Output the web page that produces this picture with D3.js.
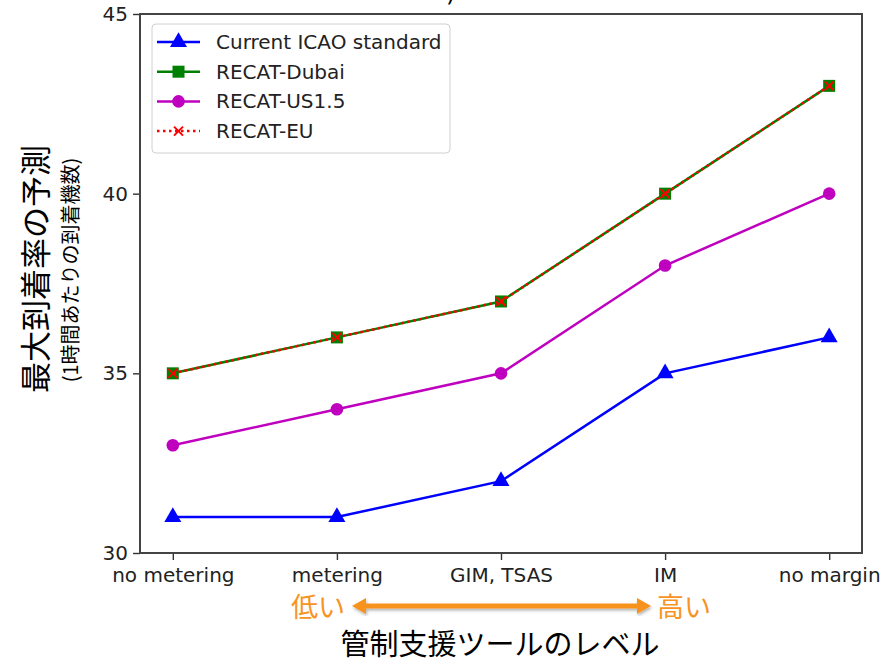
<!DOCTYPE html>
<html>
<head>
<meta charset="utf-8">
<script src="https://cdn.jsdelivr.net/npm/d3@7"></script>
<style>
  body { margin: 0; background: #fff; }
  svg text { font-family: "DejaVu Sans", sans-serif; }
  .jp { font-family: "Noto Sans CJK JP", sans-serif; }
</style>
</head>
<body>
<div id="chart"></div>
<script>
// data
let categories = ["no metering", "metering", "GIM, TSAS", "IM", "no margin"];
let icao = [31, 31, 32, 35, 36];
let dubai = [35, 36, 37, 40, 43];
let us15 = [33, 34, 35, 38, 40];
let eu = [35, 36, 37, 40, 43];
let yTicks = [30, 35, 40, 45];
let seriesNames = ["Current ICAO standard", "RECAT-Dubai", "RECAT-US1.5", "RECAT-EU"];

let margin = {top: 14, right: 22, bottom: 109, left: 140};
let W = 884, H = 662;
let width = W - margin.left - margin.right;
let height = H - margin.top - margin.bottom;

let svg = d3.select("#chart").append("svg")
  .attr("width", W)
  .attr("height", H);

let g = svg.append("g")
  .attr("transform", "translate(" + margin.left + "," + margin.top + ")");

// scales
let x = d3.scaleLinear()
  .domain([-0.2, categories.length - 0.8])
  .range([0, width]);

let y = d3.scaleLinear()
  .domain([30, 45])
  .range([height, 0]);

let series = [
  {name: seriesNames[0], values: icao, color: "#0000ff", marker: "triangle", dash: null},
  {name: seriesNames[1], values: dubai, color: "#008000", marker: "square", dash: null},
  {name: seriesNames[2], values: us15, color: "#bf00bf", marker: "circle", dash: null},
  {name: seriesNames[3], values: eu, color: "#ff0000", marker: "x", dash: "2.5,3.5"}
];

let line = d3.line()
  .x((d, i) => x(i))
  .y(d => y(d));

function drawMarker(sel, type, color) {
  if (type === "triangle") {
    sel.append("path").attr("d", d3.symbol(d3.symbolTriangle, 125)()).attr("fill", color);
  } else if (type === "square") {
    sel.append("rect").attr("x", -6).attr("y", -6).attr("width", 12).attr("height", 12).attr("fill", color);
  } else if (type === "circle") {
    sel.append("circle").attr("r", 6.3).attr("fill", color);
  } else {
    sel.append("path").attr("d", "M-4.5,-4.5L4.5,4.5M-4.5,4.5L4.5,-4.5")
      .attr("stroke", color).attr("stroke-width", 2).attr("fill", "none");
  }
}

// lines and markers
series.forEach(s => {
  g.append("path")
    .datum(s.values)
    .attr("d", line)
    .attr("fill", "none")
    .attr("stroke", s.color)
    .attr("stroke-width", 2.5)
    .attr("stroke-dasharray", s.dash);

  g.selectAll(null)
    .data(s.values)
    .enter().append("g")
    .attr("transform", (d, i) => "translate(" + x(i) + "," + y(d) + ")")
    .each(function() { drawMarker(d3.select(this), s.marker, s.color); });
});

// axes
let xAxis = d3.axisBottom(x)
  .tickValues(d3.range(categories.length))
  .tickFormat(i => categories[i])
  .tickSizeOuter(0)
  .tickSize(7)
  .tickPadding(8);

let yAxis = d3.axisLeft(y)
  .tickValues(yTicks)
  .tickSizeOuter(0)
  .tickSize(7)
  .tickPadding(5);

g.append("g")
  .attr("class", "x-axis axis")
  .attr("transform", "translate(0," + height + ")")
  .call(xAxis);

g.append("g")
  .attr("class", "y-axis axis")
  .call(yAxis);

g.selectAll(".axis .domain").remove();
g.selectAll(".axis line").attr("stroke", "#333").attr("stroke-width", 1.4);
g.selectAll(".axis text").attr("font-size", 20).attr("fill", "#222")
  .attr("font-family", "DejaVu Sans, sans-serif");

// frame
g.append("rect")
  .attr("width", width)
  .attr("height", height)
  .attr("fill", "none")
  .attr("stroke", "#444")
  .attr("stroke-width", 2);

// legend
let legend = g.append("g").attr("transform", "translate(12,10)");
legend.append("rect")
  .attr("width", 298)
  .attr("height", 129)
  .attr("rx", 4)
  .attr("fill", "#fff")
  .attr("fill-opacity", 0.8)
  .attr("stroke", "#d0d0d0");

series.forEach((s, i) => {
  let row = legend.append("g").attr("transform", "translate(0," + (18 + i * 29.7) + ")");
  row.append("line")
    .attr("x1", 5).attr("x2", 48)
    .attr("stroke", s.color)
    .attr("stroke-width", 2.5)
    .attr("stroke-dasharray", s.dash);
  let m = row.append("g").attr("transform", "translate(26.5,0)");
  drawMarker(m, s.marker, s.color);
  row.append("text")
    .attr("x", 64)
    .attr("dy", "0.35em")
    .attr("font-size", 20)
    .attr("fill", "#222")
    .text(s.name);
});

// y axis labels
svg.append("text")
  .attr("class", "jp")
  .attr("transform", "translate(36,269) rotate(-90)")
  .attr("text-anchor", "middle")
  .attr("dy", "0.35em")
  .attr("font-size", 31)
  .attr("fill", "#000")
  .text("最大到着率の予測");

svg.append("text")
  .attr("class", "jp")
  .attr("transform", "translate(71,270) rotate(-90)")
  .attr("text-anchor", "middle")
  .attr("dy", "0.35em")
  .attr("font-size", 20)
  .attr("fill", "#000")
  .text("(1時間あたりの到着機数)");

// cropped title fragment
svg.append("text")
  .attr("x", 446)
  .attr("y", 1)
  .attr("font-size", 24)
  .attr("fill", "#000")
  .text(")");

// level arrow
let orange = "#f7931e";
let defs = svg.append("defs");
defs.append("filter").attr("id", "shadow")
  .append("feDropShadow")
  .attr("dx", 1).attr("dy", 2).attr("stdDeviation", 1.5)
  .attr("flood-color", "#000").attr("flood-opacity", 0.3);

let arrow = svg.append("g").attr("filter", "url(#shadow)");
arrow.append("line")
  .attr("x1", 362).attr("x2", 640)
  .attr("y1", 606).attr("y2", 606)
  .attr("stroke", orange)
  .attr("stroke-width", 5);
arrow.append("path")
  .attr("d", "M352,606L366,598L366,614Z")
  .attr("fill", orange);
arrow.append("path")
  .attr("d", "M651,606L637,598L637,614Z")
  .attr("fill", orange);

svg.append("text")
  .attr("class", "jp")
  .attr("x", 318).attr("y", 608)
  .attr("text-anchor", "middle")
  .attr("dy", "0.35em")
  .attr("font-size", 27)
  .attr("fill", orange)
  .text("低い");

svg.append("text")
  .attr("class", "jp")
  .attr("x", 684).attr("y", 608)
  .attr("text-anchor", "middle")
  .attr("dy", "0.35em")
  .attr("font-size", 27)
  .attr("fill", orange)
  .text("高い");

svg.append("text")
  .attr("class", "jp")
  .attr("x", 500).attr("y", 645)
  .attr("text-anchor", "middle")
  .attr("dy", "0.35em")
  .attr("font-size", 29)
  .attr("fill", "#000")
  .text("管制支援ツールのレベル");
</script>
</body>
</html>
